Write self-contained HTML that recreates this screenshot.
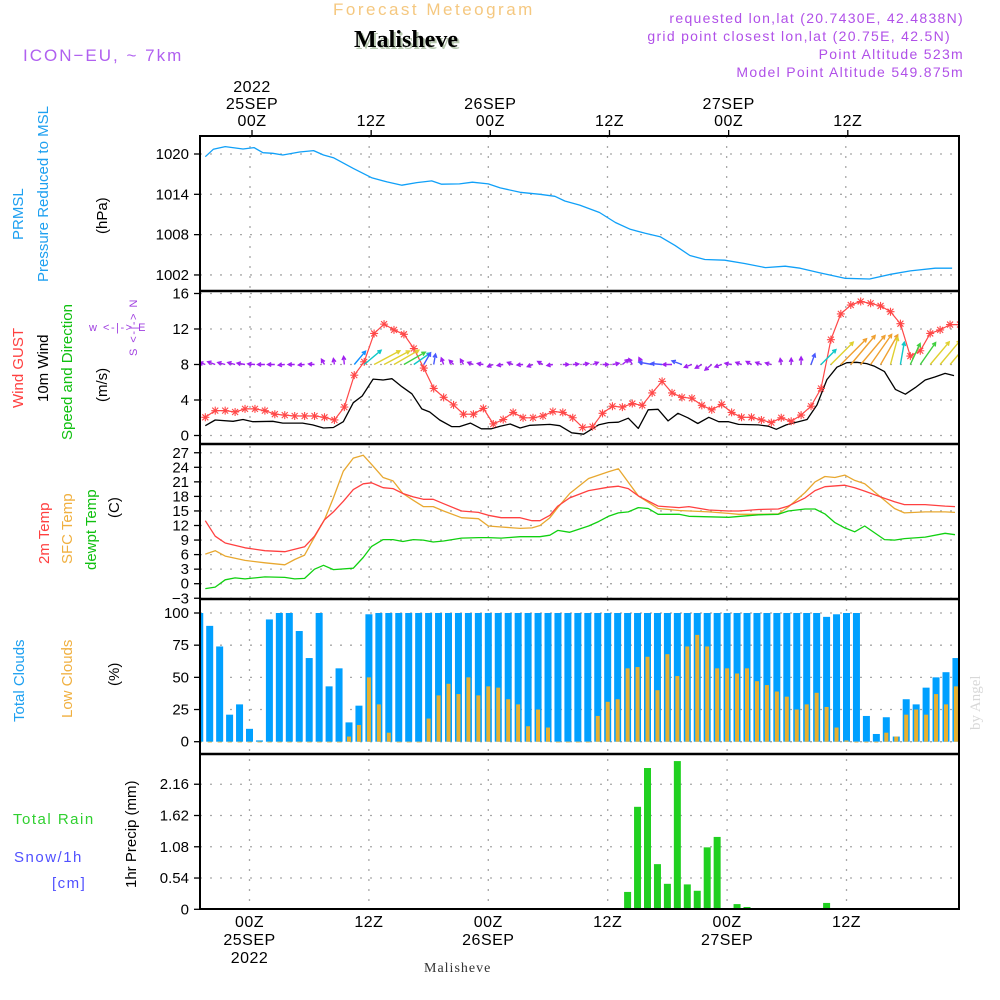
<!DOCTYPE html>
<html><head><meta charset="utf-8"><title>Meteogram Malisheve</title>
<style>
html,body{margin:0;padding:0;background:#fff;}
svg{display:block;font-family:"Liberation Sans",sans-serif;}
</style></head>
<body>
<svg id="chart" width="1000" height="1000" viewBox="0 0 1000 1000" xmlns="http://www.w3.org/2000/svg">
<rect x="0" y="0" width="1000" height="1000" fill="#fff"/>
<text x="333" y="15" font-size="17" fill="#f5c880" letter-spacing="2.5">Forecast Meteogram</text>
<text x="356" y="49" font-size="24" font-weight="bold" font-family="Liberation Serif, serif" fill="#b8c8b0">Malisheve</text>
<text x="354" y="47" font-size="24" font-weight="bold" font-family="Liberation Serif, serif" fill="#000">Malisheve</text>
<text x="23" y="61" font-size="17" fill="#b060f0" letter-spacing="2">ICON−EU, ~ 7km</text>
<g font-size="14" fill="#b050e8" text-anchor="end" letter-spacing="1.3">
<text x="964" y="23">requested lon,lat (20.7430E, 42.4838N)</text>
<text x="951" y="41">grid point closest lon,lat (20.75E, 42.5N)</text>
<text x="964" y="59">Point Altitude 523m</text>
<text x="964" y="77">Model Point Altitude 549.875m</text>
</g>
<g font-size="15">
<text transform="translate(23,240) rotate(-90)" fill="#1ea0f0">PRMSL</text>
<text transform="translate(48,282) rotate(-90)" fill="#1ea0f0">Pressure Reduced to MSL</text>
<text transform="translate(107,234) rotate(-90)" fill="#000">(hPa)</text>
<text transform="translate(23,408) rotate(-90)" fill="#ff4040">Wind GUST</text>
<text transform="translate(48,402) rotate(-90)" fill="#000">10m Wind</text>
<text transform="translate(72,440) rotate(-90)" fill="#10c010">Speed and Direction</text>
<text transform="translate(107,402) rotate(-90)" fill="#000">(m/s)</text>
<text transform="translate(49,564) rotate(-90)" fill="#ff4040">2m Temp</text>
<text transform="translate(72,564) rotate(-90)" fill="#f0b040">SFC Temp</text>
<text transform="translate(96,570) rotate(-90)" fill="#10c010">dewpt Temp</text>
<text transform="translate(119,518) rotate(-90)" fill="#000">(C)</text>
<text transform="translate(24,722) rotate(-90)" fill="#1ea0f0">Total Clouds</text>
<text transform="translate(72,718) rotate(-90)" fill="#f0b040">Low Clouds</text>
<text transform="translate(119,686) rotate(-90)" fill="#000">(%)</text>
<text x="13" y="824" fill="#30d030" letter-spacing="1.5">Total   Rain</text>
<text x="14" y="862" fill="#5050ff" letter-spacing="1.5">Snow/1h</text>
<text x="52" y="888" fill="#5050ff" letter-spacing="1.5">[cm]</text>
<text transform="translate(136,888) rotate(-90)" fill="#000">1hr Precip (mm)</text>
</g>
<g fill="#a040e0" font-size="11" text-anchor="middle">
<text x="118" y="331" letter-spacing="1.5">w &lt;-|-&gt; E</text>
<text transform="translate(137,327) rotate(-90)" letter-spacing="1.5">S &lt;-|-&gt; N</text>
</g>
<g id="plot"></g>
<text transform="translate(980,730) rotate(-90)" font-size="15" font-family="Liberation Serif, serif" fill="#d8d8d8">by Angel</text>
<text x="424" y="972" font-size="14" font-family="Liberation Serif, serif" fill="#333" letter-spacing="1">Malisheve</text>
</svg>
<script>
const pressureHours=[-4.5,-3.7,-2.5,-0.7,0.4,1.3,2.3,3.3,5.0,6.4,7.4,8.4,10.4,12.3,13.8,15.3,16.8,18.3,19.3,21.1,22.4,24.0,25.2,27.2,29.2,30.7,31.7,33.2,35.2,36.8,38.3,39.8,41.3,42.8,44.3,45.8,47.8,49.8,51.9,53.9,55.4,57.4,59.9,62.4,64.5,66.5,69.0,70.7];
const pressureValues=[1019.6,1020.7,1021.1,1020.75,1020.95,1020.2,1020.1,1019.85,1020.3,1020.5,1019.85,1019.45,1017.85,1016.45,1015.85,1015.35,1015.75,1016.0,1015.5,1015.55,1015.8,1015.55,1014.95,1014.3,1014.0,1013.7,1013.0,1012.4,1011.3,1009.8,1008.8,1008.2,1007.7,1006.4,1004.9,1004.3,1004.2,1003.7,1003.1,1003.3,1003.0,1002.3,1001.5,1001.4,1002.1,1002.6,1003.0,1003.0];
const pressureTicks=[1002,1008,1014,1020];

const gustStartHour=-4.5;
const gustValues=[2.05,2.8,2.8,2.65,3.0,3.0,2.8,2.4,2.3,2.2,2.2,2.2,2.05,1.75,3.2,6.8,8.3,11.5,12.55,11.9,11.4,9.8,7.6,5.3,4.3,3.45,2.4,2.4,3.05,1.3,1.8,2.6,2.0,2.0,2.2,2.7,2.6,2.0,0.9,1.0,2.5,3.3,3.2,3.6,3.4,4.8,6.1,4.8,4.3,4.2,3.4,2.9,3.5,2.6,2.05,2.05,1.75,1.45,2.0,1.6,2.3,3.3,5.3,10.8,13.7,14.7,15.1,14.9,14.6,13.95,12.6,8.95,9.55,11.5,11.9,12.5,12.5];
const windHours=[-4.5,-3.5,-1.7,-0.7,0.3,2.3,3.3,5.3,6.3,7.4,8.4,9.4,10.4,11.3,12.4,13.4,14.3,15.3,16.3,17.3,18.1,19.1,20.3,21.1,22.2,23.3,24.3,25.2,26.2,27.2,28.2,30.2,31.2,32.4,33.6,35.1,36.1,37.1,38.1,39.1,40.1,41.1,42.1,43.1,44.1,45.1,46.2,47.2,48.2,49.2,51.2,52.2,53.0,54.0,56.1,57.1,58.1,59.1,60.1,61.1,62.1,62.9,63.9,65.0,66.0,67.0,68.0,69.0,70.0,70.9];
const windValues=[1.1,1.75,1.6,1.8,1.55,1.6,1.4,1.4,1.2,0.85,0.9,1.55,3.7,4.45,6.35,6.25,6.4,5.5,4.7,3.0,2.65,1.75,1.0,1.0,1.4,0.75,0.75,1.05,1.3,0.85,1.15,1.25,1.1,0.3,0.15,1.2,1.45,1.5,1.95,0.8,2.9,2.95,1.65,2.5,2.0,1.35,2.05,1.55,1.55,1.25,1.2,1.05,0.7,1.2,1.8,3.45,6.3,7.7,8.2,8.25,8.1,7.8,7.2,5.2,4.65,5.4,6.25,6.6,7.0,6.75];
const arrowStartHour=-4.5;
const arrowDirections=[160,160,165,165,170,175,180,180,185,180,185,175,120,100,95,50,40,28,28,30,30,35,60,80,110,135,120,160,170,200,190,160,185,200,150,190,0,5,10,20,0,10,40,120,115,170,175,180,160,200,210,220,200,170,160,150,160,165,100,90,90,70,45,45,45,50,50,55,60,75,80,65,55,50,50,50];
const windTicks=[0,4,8,12,16];

const temp2mHours=[-4.5,-3.5,-2.5,-0.5,1.5,3.5,5.5,6.5,7.5,8.4,9.4,10.4,11.4,12.25,13.4,14.4,15.4,16.45,17.45,18.45,19.5,21.3,23.0,24.0,25.3,27.2,28.4,29.2,30.2,31.0,32.2,34.1,36.1,37.1,38.1,39.1,41.1,43.2,44.2,46.2,48.2,49.2,51.2,53.2,54.2,55.9,56.9,57.9,59.9,60.9,61.9,63.9,64.9,65.9,68.0,70.0,71.0];
const temp2mValues=[13.0,9.8,8.4,7.4,6.8,6.6,7.6,9.8,13.2,14.8,17.0,19.4,20.6,20.8,19.8,19.6,18.6,17.9,17.4,17.4,16.5,15.0,14.7,14.1,13.6,13.6,13.0,13.0,14.1,16.0,17.7,19.2,19.9,20.1,19.6,18.1,16.0,15.7,15.9,15.2,15.0,15.0,15.3,15.4,16.0,17.7,19.2,20.0,20.3,19.8,19.1,17.6,16.9,16.3,16.3,16.0,15.9];
const tempSfcHours=[-4.5,-3.5,-2.5,-0.5,1.5,3.5,4.5,5.5,6.5,7.5,8.4,9.4,10.4,11.4,12.25,13.4,14.4,15.4,16.45,17.45,18.45,19.5,21.3,23.0,24.0,25.3,27.2,28.4,29.2,30.2,31.0,32.2,34.1,36.1,37.1,39.1,41.1,43.2,46.2,48.2,49.2,51.2,53.2,54.2,55.9,56.9,57.9,58.9,59.9,60.9,61.9,63.9,64.9,65.9,68.0,70.0,71.0];
const tempSfcValues=[6.1,6.8,5.7,4.8,4.3,3.9,5.0,5.9,9.6,13.2,17.7,23.2,25.9,26.5,24.6,21.9,21.2,18.6,17.2,15.9,15.9,15.0,13.6,13.4,11.9,11.7,11.4,11.5,12.0,13.6,15.7,18.6,21.7,23.1,23.7,18.1,15.5,15.1,14.8,14.5,14.3,14.3,14.4,15.8,18.8,21.0,22.1,21.9,22.4,21.3,20.6,17.2,15.5,14.6,14.8,14.8,14.7];
const dewptHours=[-4.5,-3.5,-2.5,-1.5,-0.5,1.5,3.5,4.5,5.5,6.5,7.4,8.4,10.4,11.4,12.25,13.4,14.4,15.4,16.45,17.45,18.45,19.5,21.3,23.0,24.0,25.3,27.2,29.2,30.2,31.0,32.2,34.1,35.1,36.1,37.1,38.1,39.1,40.1,41.1,43.2,44.2,46.2,48.2,51.2,53.2,54.2,55.9,56.9,57.9,58.9,59.9,60.9,61.9,63.9,64.9,65.9,68.0,70.0,71.0];
const dewptValues=[-1.0,-0.7,0.8,1.2,1.0,1.4,1.3,1.0,1.1,3.0,3.8,2.9,3.2,5.4,7.7,9.1,9.1,8.7,9.1,9.0,8.6,8.8,9.4,9.5,9.5,9.4,9.7,9.7,10.0,11.0,10.6,11.9,12.8,13.9,14.6,14.8,15.7,15.5,14.3,14.3,13.9,13.8,13.7,14.2,14.3,15.0,15.4,15.4,14.4,12.6,11.5,10.7,11.9,9.1,9.0,9.3,9.6,10.4,10.1];
const tempTicks=[-3,0,3,6,9,12,15,18,21,24,27];

const cloudStartHour=-5;
const totalCloudValues=[100,90,74,21,29,10,1,95,100,100,86,65,100,43,57,15,28,99,
100,100,100,100,100,100,100,100,100,100,100,100,100,100,100,100,100,100,100,100,100,100,100,100,100,100,100,100,100,100,100,100,100,100,100,100,100,100,100,100,100,100,100,100,100,
97,99,100,100,20,6,19,4,33,29,42,50,54,65];
const lowCloudValues=[0,0,0,0,0,0,0,0,0,0,0,0,0,0,0,4,13,50,29,7,0,0,0,18,36,45,37,50,36,43,42,33,29,12,25,11,0,0,0,0,20,31,33,57,58,66,40,68,51,74,83,74,57,57,53,57,47,44,39,35,25,29,38,27,11,1,0,0,0,7,4,21,25,21,37,29,43];
const cloudTicks=[0,25,50,75,100];

const precipHours=[37,38,39,40,41,42,43,44,45,46,47,49,50,58];
const precipValues=[0.02,0.30,1.77,2.44,0.78,0.44,2.56,0.43,0.32,1.07,1.25,0.09,0.04,0.11];
const precipTicks=[0,0.54,1.08,1.62,2.16];
const precipTickLabels=["0","0.54","1.08","1.62","2.16"];

const timeTickHours=[0,12,24,36,48,60];
const topTickLabels=[["2022","25SEP","00Z"],["12Z"],["26SEP","00Z"],["12Z"],["27SEP","00Z"],["12Z"]];
const bottomTickLabels=[["00Z","25SEP","2022"],["12Z"],["00Z","26SEP"],["12Z"],["00Z","27SEP"],["12Z"]];

const X0=200,X1=959;
const xL=h=>250+9.93*h;
const xB=h=>249.5+9.95*h;
const yP=p=>154+(1020-p)*6.72;
const yW=v=>435.5-8.875*v;
const yT=t=>583.7-4.85*t;
const yC=c=>741.7-1.287*c;
const yR=r=>909.3-57.9*r;
const panels=[{top:136,bot:291},{top:291,bot:444},{top:444,bot:599},{top:599,bot:754},{top:754,bot:909}];

const NS="http://www.w3.org/2000/svg";
const plot=document.getElementById('plot');
function mk(tag,attrs,parent){const e=document.createElementNS(NS,tag);for(const k in attrs)e.setAttribute(k,attrs[k]);(parent||plot).appendChild(e);return e;}

const defs=mk('defs',{});
const cp=mk('clipPath',{id:'clipAll'},defs);
mk('rect',{x:X0,y:136,width:X1-X0,height:773},cp);

const grid=mk('g',{stroke:'#a8a8a8','stroke-width':1.3,'stroke-dasharray':'2 8'});


function hgrid(y,name){const l=mk('line',{x1:X0,x2:X1,y1:y,y2:y},grid);}
function tickLabel(y,txt,name){const t=mk('text',{x:189,y:y+5,'text-anchor':'end','font-size':15});t.textContent=txt;
 const tk=mk('line',{x1:194,x2:200,y1:y,y2:y,stroke:'#000','stroke-width':1.3});}

pressureTicks.forEach(p=>{hgrid(yP(p),'pressure-gridline');tickLabel(yP(p),String(p),'pressure-tick-label');});
windTicks.forEach(v=>{hgrid(yW(v),'wind-gridline');tickLabel(yW(v),String(v),'wind-tick-label');});
tempTicks.forEach(t=>{hgrid(yT(t),'temp-gridline');tickLabel(yT(t),t<0?'−'+(-t):String(t),'temp-tick-label');});
cloudTicks.forEach(c=>{hgrid(yC(c),'cloud-gridline');tickLabel(yC(c),String(c),'cloud-tick-label');});
precipTicks.forEach((r,i)=>{if(i>0)hgrid(yR(r),'precip-gridline');tickLabel(yR(r),precipTickLabels[i],'precip-tick-label');});
timeTickHours.forEach(h=>{
 const a=mk('line',{x1:xL(h),x2:xL(h),y1:136,y2:599},grid);
 
 
 const b=mk('line',{x1:xB(h),x2:xB(h),y1:599,y2:909},grid);
 
 
});

timeTickHours.forEach((h,i)=>{
 const lines=topTickLabels[i];
 lines.forEach((s,j)=>{const t=mk('text',{x:xL(h)+2,y:126-(lines.length-1-j)*17,'text-anchor':'middle','font-size':16,'letter-spacing':'0.5'});t.textContent=s;
  
  });
 const tk=mk('line',{x1:xL(h)+2,x2:xL(h)+2,y1:130,y2:136,stroke:'#000','stroke-width':1.3});
 
 
 bottomTickLabels[i].forEach((s,j)=>{const t=mk('text',{x:xB(h),y:927+j*18,'text-anchor':'middle','font-size':16,'letter-spacing':'0.5'});t.textContent=s;
  
  });
});

const series=mk('g',{'clip-path':'url(#clipAll)'});


function line(hs,vs,xf,yf,color,name,w){
 const d=hs.map((h,i)=>(i?'L':'M')+xf(h).toFixed(1)+','+yf(vs[i]).toFixed(1)).join('');
 const p=mk('path',{d:d,fill:'none',stroke:color,'stroke-width':w||1.3,'stroke-linejoin':'round'},series);
 
 
}
line(pressureHours,pressureValues,xL,yP,'#10a0f8','pressure-line');

totalCloudValues.forEach((c,i)=>{const h=cloudStartHour+i;
 const r=mk('rect',{x:xB(h)-3.5,y:yC(c),width:7,height:yC(0)-yC(c),fill:'#00a0ff'},series);
 
 });
lowCloudValues.forEach((c,i)=>{const h=cloudStartHour+i;
 const r=mk('rect',{x:xB(h)-2,y:yC(c),width:4,height:Math.max(yC(0)-yC(c),0.8),fill:'#e8b030'},series);
 
 });

precipValues.forEach((r,i)=>{const h=precipHours[i];
 const b=mk('rect',{x:xB(h)-3.5,y:yR(r),width:7,height:yR(0)-yR(r),fill:'#20d020'},series);
 
 });
const z=mk('line',{x1:X0,x2:X1,y1:yR(0),y2:yR(0),stroke:'#000','stroke-width':2,'stroke-dasharray':'6 3'},series);



line(tempSfcHours,tempSfcValues,xL,yT,'#e8a830','sfc-temp-line');
line(temp2mHours,temp2mValues,xL,yT,'#ff4040','temp-2m-line');
line(dewptHours,dewptValues,xL,yT,'#10d010','dewpt-line');

line(windHours,windValues,xL,yW,'#000','wind-speed-line');
const gustHours=gustValues.map((v,i)=>gustStartHour+i);
line(gustHours,gustValues,xL,yW,'#ff4848','gust-line',1.2);
gustValues.forEach((v,i)=>{const x=xL(gustHours[i]),y=yW(v);
 const m=mk('path',{d:`M${x-4},${y}H${x+4}M${x},${y-4}V${y+4}M${x-3},${y-3}L${x+3},${y+3}M${x-3},${y+3}L${x+3},${y-3}`,stroke:'#ff4848','stroke-width':1.1},series);
 
 });

function interp(h){if(h<=windHours[0])return windValues[0];for(let i=1;i<windHours.length;i++){if(h<=windHours[i]){const f=(h-windHours[i-1])/(windHours[i]-windHours[i-1]);return windValues[i-1]+f*(windValues[i]-windValues[i-1]);}}return windValues[windValues.length-1];}
function spdColor(s){if(s<2)return '#a020f0';if(s<3)return '#4858ff';if(s<4)return '#1090ff';if(s<5)return '#10c8c8';if(s<6)return '#40d040';if(s<7)return '#e0d030';return '#f0a030';}
arrowDirections.forEach((dir,i)=>{const h=arrowStartHour+i;const s=interp(h);
 const len=Math.max(6,4.6*s);const a=dir*Math.PI/180;
 const x0=xL(h),y0=yW(8);const x1=x0+len*Math.cos(a),y1=y0-len*Math.sin(a);
 const hl=4,ang=0.5;
 const hx1=x1-hl*Math.cos(a-ang),hy1=y1+hl*Math.sin(a-ang);
 const hx2=x1-hl*Math.cos(a+ang),hy2=y1+hl*Math.sin(a+ang);
 const col=spdColor(s);
 const p=mk('path',{d:`M${x0.toFixed(1)},${y0.toFixed(1)}L${x1.toFixed(1)},${y1.toFixed(1)}M${hx1.toFixed(1)},${hy1.toFixed(1)}L${x1.toFixed(1)},${y1.toFixed(1)}L${hx2.toFixed(1)},${hy2.toFixed(1)}`,stroke:col,'stroke-width':1.4,fill:'none'},series);
 
 });

const fr=mk('g',{stroke:'#000',fill:'none'});


const outer=mk('rect',{x:X0,y:136,width:X1-X0,height:773,'stroke-width':2},fr);


panels.slice(1).forEach(p=>{const l=mk('line',{x1:X0,x2:X1,y1:p.top,y2:p.top,'stroke-width':2.5},fr);
 
 });
</script>
</body></html>
